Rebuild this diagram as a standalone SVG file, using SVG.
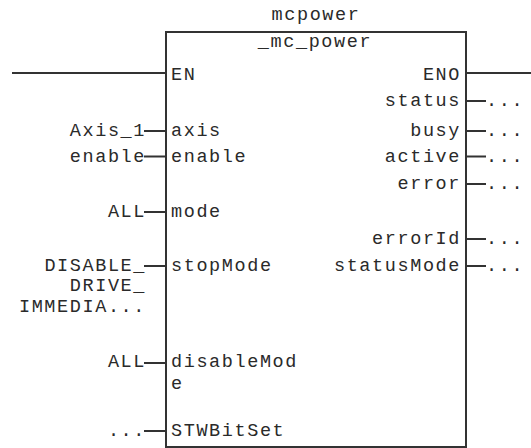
<svg xmlns="http://www.w3.org/2000/svg" width="531" height="448" viewBox="0 0 531 448">
  <style>
    text { font-family: "Liberation Mono", "DejaVu Sans Mono", monospace; font-size: 18.5px; letter-spacing: 1.6px; fill: #2a2a2a; }
    .l { text-anchor: start; }
    .r { text-anchor: end; }
    .c { text-anchor: middle; }
    .wire { stroke: #333; stroke-width: 2; fill: none; }
    .box { stroke: #333; stroke-width: 2; fill: #fff; }
  </style>
  <rect width="531" height="448" fill="#fff"/>

  <!-- connectors: power rail and pin stubs -->
  <g id="connectors">
    <line class="wire" x1="12" y1="73" x2="166" y2="73"/>
    <line class="wire" x1="466" y1="73" x2="531" y2="73"/>
    <!-- input stubs -->
    <line class="wire" x1="144" y1="131" x2="166" y2="131"/>
    <line class="wire" x1="144" y1="156.5" x2="166" y2="156.5"/>
    <line class="wire" x1="144" y1="212" x2="166" y2="212"/>
    <line class="wire" x1="144" y1="266" x2="166" y2="266"/>
    <line class="wire" x1="144" y1="363" x2="166" y2="363"/>
    <line class="wire" x1="144" y1="431" x2="166" y2="431"/>
    <!-- output stubs -->
    <line class="wire" x1="466" y1="101" x2="486" y2="101"/>
    <line class="wire" x1="466" y1="131" x2="486" y2="131"/>
    <line class="wire" x1="466" y1="156.5" x2="486" y2="156.5"/>
    <line class="wire" x1="466" y1="184" x2="486" y2="184"/>
    <line class="wire" x1="466" y1="239" x2="486" y2="239"/>
    <line class="wire" x1="466" y1="266" x2="486" y2="266"/>
  </g>

  <!-- function block -->
  <g id="mcpower">
    <text class="c" x="316" y="20">mcpower</text>
    <rect class="box" x="166" y="32" width="300" height="415"/>
    <text class="c" x="315" y="47">_mc_power</text>
    <!-- inputs -->
    <text class="l" x="171" y="79.5">EN</text>
    <text class="l" x="171" y="136">axis</text>
    <text class="l" x="171" y="161.5">enable</text>
    <text class="l" x="171" y="217">mode</text>
    <text class="l" x="171" y="271">stopMode</text>
    <text class="l" x="171" y="367">disableMod</text>
    <text class="l" x="171" y="388.5">e</text>
    <text class="l" x="171" y="436">STWBitSet</text>
    <!-- outputs -->
    <text class="r" x="461" y="79.5">ENO</text>
    <text class="r" x="461" y="106">status</text>
    <text class="r" x="461" y="136">busy</text>
    <text class="r" x="461" y="161.5">active</text>
    <text class="r" x="461" y="189">error</text>
    <text class="r" x="461" y="244">errorId</text>
    <text class="r" x="461" y="271">statusMode</text>
  </g>

  <!-- actual parameters on inputs -->
  <g id="inputs">
    <text class="r" x="146" y="136">Axis_1</text>
    <text class="r" x="146" y="161.5">enable</text>
    <text class="r" x="146" y="217">ALL</text>
    <text class="r" x="146" y="270.5">DISABLE_</text>
    <text class="r" x="146" y="291">DRIVE_</text>
    <text class="r" x="146" y="311.5">IMMEDIA...</text>
    <text class="r" x="146" y="367">ALL</text>
    <text class="r" x="146" y="436">...</text>
  </g>

  <!-- actual parameters on outputs -->
  <g id="outputs">
    <text class="l" x="486" y="106">...</text>
    <text class="l" x="486" y="136">...</text>
    <text class="l" x="486" y="161.5">...</text>
    <text class="l" x="486" y="189">...</text>
    <text class="l" x="486" y="244">...</text>
    <text class="l" x="486" y="271">...</text>
  </g>
</svg>
